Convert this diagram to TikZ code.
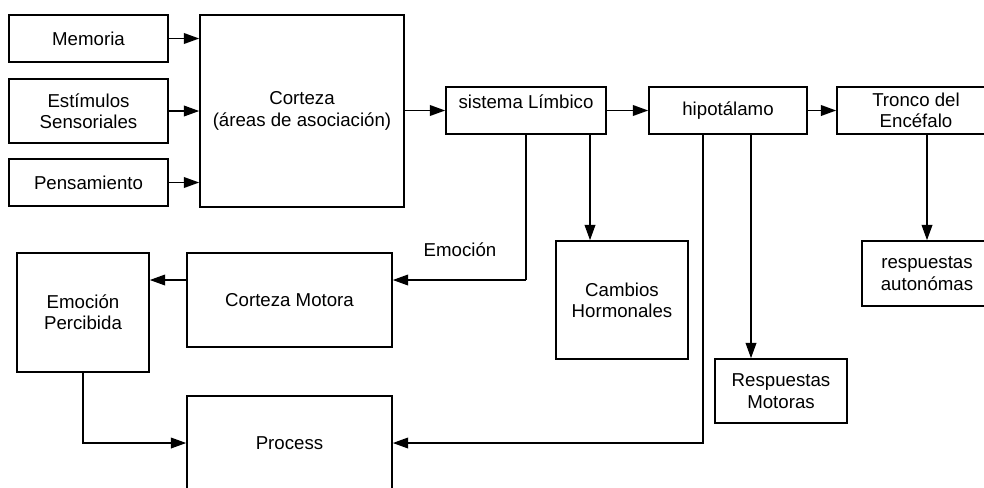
\documentclass[tikz,border=0pt]{standalone}
\usepackage{fontspec}
\setmainfont{Liberation Sans}
\usetikzlibrary{arrows.meta,positioning,calc}

\begin{document}
\begin{tikzpicture}[x=0.75pt,y=-0.75pt,
    blk/.style={draw,line width=1.2pt,inner sep=0pt,align=center,font=\fontsize{14}{16}\selectfont},
    arr/.style={line width=1.2pt,-{Triangle[length=11.5pt,width=8pt]}},
    lnk/.style={line width=1.2pt}]
\useasboundingbox (0,0) rectangle (984,487);
\clip (0,0) rectangle (984,487);

% left inputs
\foreach \n/\y/\h/\t in {mem/38.5/35.25pt/Memoria, est/111/48pt/{Estímulos\\Sensoriales}, pen/182.5/35.25pt/Pensamiento} {
    \node[blk,minimum width=119.25pt,minimum height=\h] (\n) at (88.5,\y) {\t};
}
\node[blk,minimum width=153pt,minimum height=144pt] (cortex) at (302,111) {Corteza\\(áreas de asociación)};

% top row
\node[blk,minimum width=120pt,minimum height=35.25pt,text depth=13pt] (limb) at (526,110.5) {sistema Límbico};
\node[blk,minimum width=118.5pt,minimum height=35.25pt] (hipo) at (728,110.5) {hipotálamo};
\node[blk,minimum width=118.5pt,minimum height=35.25pt] (tronco) at (916,110.5) {Tronco del\\Encéfalo};

% outputs
\node[blk,minimum width=99pt,minimum height=88.5pt] (cambios) at (622,300) {Cambios\\Hormonales};
\node[blk,minimum width=97.5pt,minimum height=48.75pt] (respaut) at (927,273.5) {respuestas\\autonómas};
\node[blk,minimum width=99pt,minimum height=48pt] (respmot) at (781,391) {Respuestas\\Motoras};
\node[blk,minimum width=153.75pt,minimum height=70.5pt] (cortmot) at (289.5,300) {Corteza Motora};
\node[blk,minimum width=99pt,minimum height=89.25pt] (emoperc) at (83,312.5) {Emoción\\Percibida};
\node[blk,minimum width=153.75pt,minimum height=70.5pt] (process) at (289.5,443) {Process};
\node[font=\fontsize{14}{16}\selectfont] (lblemo) at (460,250) {Emoción};

\coordinate (emo) at (526,280);

\foreach \n in {mem,est,pen} {
    \draw[arr] (\n.east) -- (\n.east -| cortex.west);
}
\draw[arr] (cortex.east |- limb.west) -- (limb.west);
\draw[arr] (limb.east) -- (hipo.west);
\draw[arr] (hipo.east) -- (tronco.west);
\draw[lnk] (limb.south) -- (emo);
\draw[arr] (emo) -- (emo -| cortmot.east);
\draw[arr] (emo -| cortmot.west) -- (emo -| emoperc.east);
\draw[arr] ([xshift=48pt]limb.south) -- ([xshift=48pt]limb.south |- cambios.north);
\draw[arr] ([xshift=-18.75pt]hipo.south) |- (process.east);
\draw[arr] ([xshift=17.25pt]hipo.south) -- ([xshift=17.25pt]hipo.south |- respmot.north);
\draw[arr] (respaut.north |- tronco.south) -- (respaut.north);
\draw[arr] (emoperc.south) |- (process.west);
\end{tikzpicture}
\end{document}
